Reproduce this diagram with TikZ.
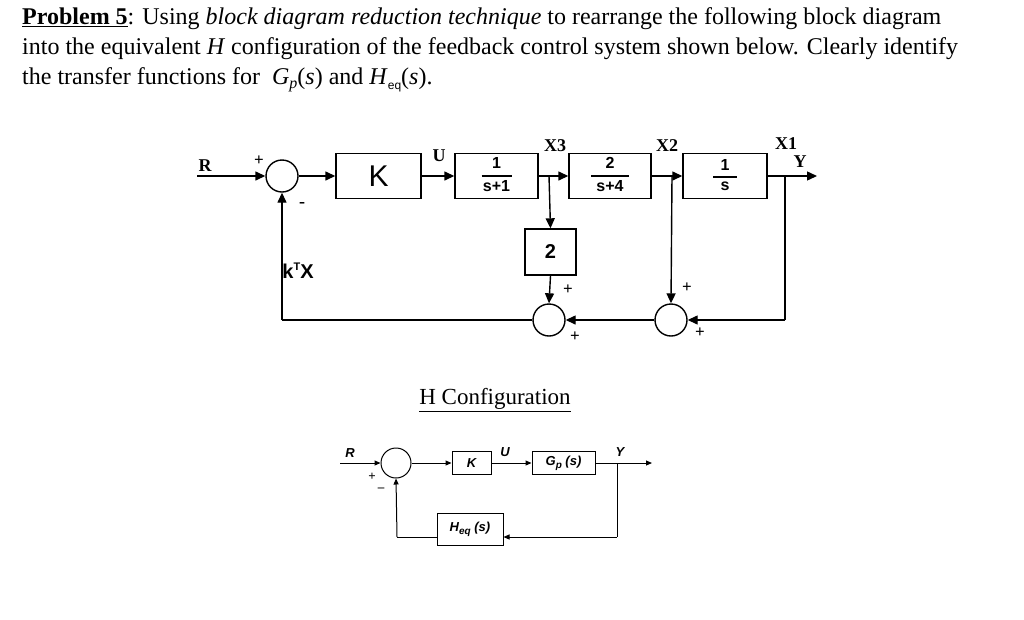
\documentclass[tikz,border=0pt]{standalone}
\usepackage{fontspec}
\setmainfont{Liberation Serif}
\newfontfamily\hand{Liberation Sans}
\newcommand\hfr{\hand\bfseries\fontsize{16}{16}\selectfont}
\newcommand\myfrac[3]{\begingroup\setlength\tabcolsep{0pt}\renewcommand\arraystretch{0.75}\begin{tabular}{c}\hfr #1\\[-1pt]\rule{#3}{1.6pt}\\[1pt]\hfr #2\end{tabular}\endgroup}
\usetikzlibrary{arrows.meta}
\begin{document}
\begin{tikzpicture}[x=1pt,y=-1pt,
  blk/.style={draw,line width=1.4pt,inner sep=0pt},
  sm/.style={draw,circle,line width=1.4pt,minimum size=32pt,inner sep=0pt},
  sm2/.style={draw,circle,line width=1pt,minimum size=30pt,inner sep=0pt},
  arr/.style={line width=1.4pt,-{Triangle[length=10pt,width=9pt]}},
  ln/.style={line width=1.4pt},
  arr2/.style={line width=1pt,-{Triangle[length=6pt,width=5pt]}},
  ln2/.style={line width=1pt},
  lab/.style={font=\fontsize{18}{18}\selectfont\bfseries},
  pl/.style={font=\fontsize{17}{17}\selectfont\bfseries},
  hl/.style={font=\hand\fontsize{20}{20}\selectfont\bfseries},
  sl/.style={font=\hand\fontsize{13}{13}\selectfont\bfseries\itshape}]
\useasboundingbox (0,0) rectangle (1024,619);
\fill[white] (0,0) rectangle (1024,619);
% title
\node[anchor=north west,align=left,inner sep=0pt,font=\fontsize{24}{30}\selectfont] (title) at (22,7)
{\underline{\textbf{Problem 5}}: Using \textit{block diagram reduction technique} to rearrange the following block diagram\\
into the equivalent \textit{H} configuration of the feedback control system shown below. Clearly identify\\
the transfer functions for \ \textit{G}\raisebox{-4pt}{\fontsize{16}{16}\selectfont\textit{p}}(\textit{s}) and \textit{H}\raisebox{-5pt}{\hand\fontsize{12}{12}\selectfont eq}(\textit{s}).};
% top diagram
\node[sm] (s1) at (282,176) {};
\node[blk,minimum width=85pt,minimum height=45pt] (K) at (378.5,176) {\hand\fontsize{30}{30}\selectfont K};
\node[blk,minimum width=83pt,minimum height=45pt] (G1) at (496.5,176) {\myfrac{1}{s+1}{30pt}};
\node[blk,minimum width=82pt,minimum height=45pt] (G2) at (610,176) {\myfrac{2}{s+4}{38pt}};
\node[blk,minimum width=84pt,minimum height=45pt] (G3) at (725,176) {\myfrac{1}{s}{24pt}};
\node[blk,minimum width=51pt,minimum height=46pt] (B2) at (550.5,252) {\hand\bfseries\fontsize{20}{20}\selectfont 2};
\node[sm] (s2) at (549,320) {};
\node[sm] (s3) at (671,320) {};
\coordinate (Rin) at (197,176);
\coordinate (Yout) at (817,176);
\coordinate (b3) at (549,176);
\coordinate (b2) at (672,176);
\coordinate (b1) at (785,176);
\coordinate (c1) at (785,320);
\coordinate (c0) at (282,320);
\draw[arr] (Rin) -- (s1.west);
\draw[arr] (s1.east) -- (K.west);
\draw[arr] (K.east) -- (G1.west);
\draw[arr] (G1.east) -- (G2.west);
\draw[arr] (G2.east) -- (G3.west);
\draw[arr] (G3.east) -- (Yout);
\draw[arr] (b3) -- (B2.north);
\draw[arr] (B2.south) -- (s2.north);
\draw[arr] (b2) -- (s3.north);
\draw[ln] (b1) -- (c1);
\draw[arr] (c1) -- (s3.east);
\draw[arr] (s3.west) -- (s2.east);
\draw[ln] (s2.west) -- (c0);
\draw[arr] (c0) -- (s1.south);
\node[lab] (lR) at (205,166) {R};
\node[lab] (lU) at (439,156) {U};
\node[lab] (lX3) at (555,146) {X3};
\node[lab] (lX2) at (667,146) {X2};
\node[lab] (lX1) at (786,144) {X1};
\node[lab] (lY) at (800,162) {Y};
\node[pl] (p1) at (259,161) {+};
\node[font=\fontsize{18}{18}\selectfont\bfseries] (m1) at (302,205) {-};
\node[hl] (kx) at (298,271) {k\raisebox{8pt}{\fontsize{11}{11}\selectfont T}X};
\node[pl] (p2) at (568,290) {+};
\node[pl] (p3) at (575,337) {+};
\node[pl] (p4) at (687,288) {+};
\node[pl] (p5) at (700,333) {+};
% H configuration title
\node[font=\fontsize{23}{23}\selectfont] (hc) at (495,400) {\underline{H Configuration}};
% bottom diagram
\node[sm2] (t1) at (396,463) {};
\node[blk,line width=1pt,minimum width=39pt,minimum height=23pt] (K2) at (471.5,463) {\hand\bfseries\itshape\fontsize{13}{13}\selectfont K};
\node[blk,line width=1pt,minimum width=63pt,minimum height=23pt] (Gp) at (563.5,463) {\hand\bfseries\itshape\fontsize{13}{13}\selectfont G\raisebox{-3pt}{\fontsize{10}{10}\selectfont p} (s)};
\node[blk,line width=1pt,minimum width=66pt,minimum height=32pt] (H) at (470,529) {\hand\bfseries\itshape\fontsize{13}{13}\selectfont H\raisebox{-3pt}{\fontsize{10}{10}\selectfont eq} (s)};
\coordinate (R2) at (340,463);
\coordinate (Y2) at (652,463);
\coordinate (d1) at (617,463);
\coordinate (d2) at (617,537);
\coordinate (d3) at (397,537);
\draw[arr2] (R2) -- (t1.west);
\draw[arr2] (t1.east) -- (K2.west);
\draw[arr2] (K2.east) -- (Gp.west);
\draw[arr2] (Gp.east) -- (Y2);
\draw[ln2] (d1) -- (d2);
\draw[arr2] (d2) -- (H.east |- d2);
\draw[ln2] (H.west |- d3) -- (d3);
\draw[arr2] (d3) -- (t1.south);
\node[sl] (lR2) at (350,453) {R};
\node[sl] (lU2) at (505,452) {U};
\node[sl] (lY2) at (620,452) {Y};
\node[font=\fontsize{13}{13}\selectfont\bfseries] (q1) at (372,477) {+};
\node[font=\fontsize{13}{13}\selectfont\bfseries] (q2) at (381,490) {--};
\end{tikzpicture}
\end{document}
